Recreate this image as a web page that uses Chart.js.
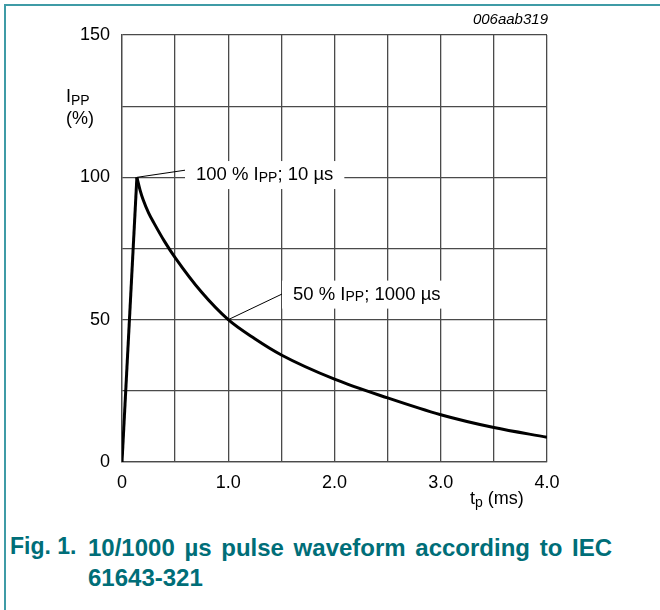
<!DOCTYPE html>
<html>
<head>
<meta charset="utf-8">
<script src="https://cdn.jsdelivr.net/npm/chart.js@4.4.1/dist/chart.umd.min.js"></script>
<style>
    html, body { margin: 0; padding: 0; background: #fff; }
    body { width: 660px; height: 610px; position: relative; overflow: hidden; font-family: "Liberation Sans", Arial, sans-serif; }
    #frame-top { position: absolute; left: 4px; top: 4px; width: 656px; height: 2px; background: #3f9ba6; }
    #frame-left { position: absolute; left: 4px; top: 4px; width: 2px; height: 606px; background: #3f9ba6; }
    #chart-box { position: absolute; left: 0; top: 0; width: 660px; height: 530px; }
    .txt { position: absolute; color: #000; font-size: 18px; white-space: nowrap; }
    .txt sub { font-size: 14px; vertical-align: -3px; line-height: 0; }
    #code { right: 112px; top: 10px; font-size: 15px; font-style: italic; }
    #y-title { left: 66px; top: 85px; line-height: 22px; }
    #x-title { left: 470px; top: 488px; }
    .caption { position: absolute; color: #006e78; font-weight: bold; font-size: 24px; }
    #fig-num { left: 10px; top: 533px; font-size: 23px; }
    #fig-text { left: 88px; top: 533px; width: 560px; line-height: 30px; word-spacing: 3px; }
</style>
</head>
<body>
<div id="frame-top"></div>
<div id="frame-left"></div>
<div id="chart-box"><canvas id="pulse-chart" width="660" height="530"></canvas></div>
<div class="txt" id="code">006aab319</div>
<div class="txt" id="y-title">I<sub>PP</sub><br>(%)</div>
<div class="txt" id="x-title">t<sub>p</sub> (ms)</div>
<div class="caption" id="fig-num">Fig. 1.</div>
<div class="caption" id="fig-text">10/1000 µs pulse waveform according to IEC 61643-321</div>
<script>
// Valeurs (t en ms, courant en % de IPP)
const riseT = [0, 0.14];
const riseI = [0, 100];
const decayT = [0.14, 0.17, 0.2, 0.25, 0.3, 0.4, 0.5, 0.75, 1.0, 1.25, 1.5, 2.0, 2.5, 3.0, 3.5, 4.0];
const decayI = [100, 95.5, 92, 87.5, 84, 77.5, 71.8, 59.6, 50, 43.3, 37.6, 29.1, 22.5, 16.6, 12.1, 8.7];

// Graduations
const xLabelTicks = [0, 1, 2, 3, 4];
const yLabelTicks = [0, 50, 100, 150];

// Annotations : point visé, bout du trait et texte (I + indice PP)
const notePointT = [0.14, 1.0];
const notePointI = [100, 50];
const noteTextPre = ['100 % I', '50 % I'];
const noteTextPost = ['; 10 µs', '; 1000 µs'];
const noteBoxT = [0.593, 1.506];
const noteLineI = [102.5, 59];
const noteTextI = [100.8, 58.8];

function toPoints(xs, ys) {
    return xs.map((x, i) => ({ x: x, y: ys[i] }));
}

/**
 * Dessine les deux étiquettes avec leur trait de rappel
 */
const notesPlugin = {
    id: 'notes',
    afterDatasetsDraw(chart) {
        const ctx = chart.ctx;
        const xs = chart.scales.x;
        const ys = chart.scales.y;
        const mainFont = '18.5px "Liberation Sans", Arial, sans-serif';
        const subFont = '14px "Liberation Sans", Arial, sans-serif';
        ctx.save();
        notePointT.forEach((t, i) => {
            const px = xs.getPixelForValue(t);
            const py = ys.getPixelForValue(notePointI[i]);
            const bx = xs.getPixelForValue(noteBoxT[i]);
            const ly = ys.getPixelForValue(noteLineI[i]);
            const ty = ys.getPixelForValue(noteTextI[i]);

            ctx.font = mainFont;
            const w1 = ctx.measureText(noteTextPre[i]).width;
            const w3 = ctx.measureText(noteTextPost[i]).width;
            ctx.font = subFont;
            const w2 = ctx.measureText('PP').width;
            const pad = 11;
            const boxW = w1 + w2 + w3 + 2 * pad;

            // fond blanc qui coupe la grille
            ctx.fillStyle = '#fff';
            ctx.fillRect(bx, ty - 14, boxW, 28);

            // trait de rappel
            ctx.strokeStyle = '#000';
            ctx.lineWidth = 1;
            ctx.beginPath();
            ctx.moveTo(px, py);
            ctx.lineTo(bx, ly);
            ctx.stroke();

            // texte
            ctx.fillStyle = '#000';
            ctx.textBaseline = 'middle';
            ctx.textAlign = 'left';
            let x = bx + pad;
            ctx.font = mainFont;
            ctx.fillText(noteTextPre[i], x, ty);
            x += w1;
            ctx.font = subFont;
            ctx.fillText('PP', x, ty + 3);
            x += w2;
            ctx.font = mainFont;
            ctx.fillText(noteTextPost[i], x, ty);
        });
        ctx.restore();
    }
};

const gridColor = '#4a4a4a';
const ctx = document.getElementById('pulse-chart').getContext('2d');
const pulseChart = new Chart(ctx, {
    type: 'line',
    data: {
        datasets: [{
            data: toPoints(riseT, riseI),
            borderColor: '#000',
            borderWidth: 3,
            pointRadius: 0,
            fill: false
        }, {
            data: toPoints(decayT, decayI),
            borderColor: '#000',
            borderWidth: 3,
            pointRadius: 0,
            cubicInterpolationMode: 'monotone',
            fill: false
        }]
    },
    options: {
        responsive: false,
        animation: false,
        layout: {
            padding: { left: 0, top: 35, right: 113, bottom: 0 }
        },
        plugins: {
            legend: { display: false },
            tooltip: { enabled: false }
        },
        scales: {
            x: {
                type: 'linear',
                min: 0,
                max: 4,
                afterFit: function(scale) { scale.height = 68; },
                ticks: {
                    stepSize: 0.5,
                    padding: 10,
                    color: '#000',
                    font: { family: '"Liberation Sans", Arial, sans-serif', size: 18 },
                    maxRotation: 0,
                    autoSkip: false,
                    callback: function(v) {
                        if (!xLabelTicks.includes(v)) return '';
                        return v === 0 ? '0' : v.toFixed(1);
                    }
                },
                grid: { color: gridColor, lineWidth: 1.3, drawTicks: false },
                border: { color: gridColor, width: 1.3 }
            },
            y: {
                min: 0,
                max: 150,
                afterFit: function(scale) { scale.width = 122; },
                ticks: {
                    stepSize: 25,
                    padding: 12,
                    color: '#000',
                    font: { family: '"Liberation Sans", Arial, sans-serif', size: 18 },
                    autoSkip: false,
                    callback: function(v) {
                        return yLabelTicks.includes(v) ? String(v) : '';
                    }
                },
                grid: { color: gridColor, lineWidth: 1.3, drawTicks: false },
                border: { color: gridColor, width: 1.3 }
            }
        }
    },
    plugins: [notesPlugin]
});
</script>
</body>
</html>
